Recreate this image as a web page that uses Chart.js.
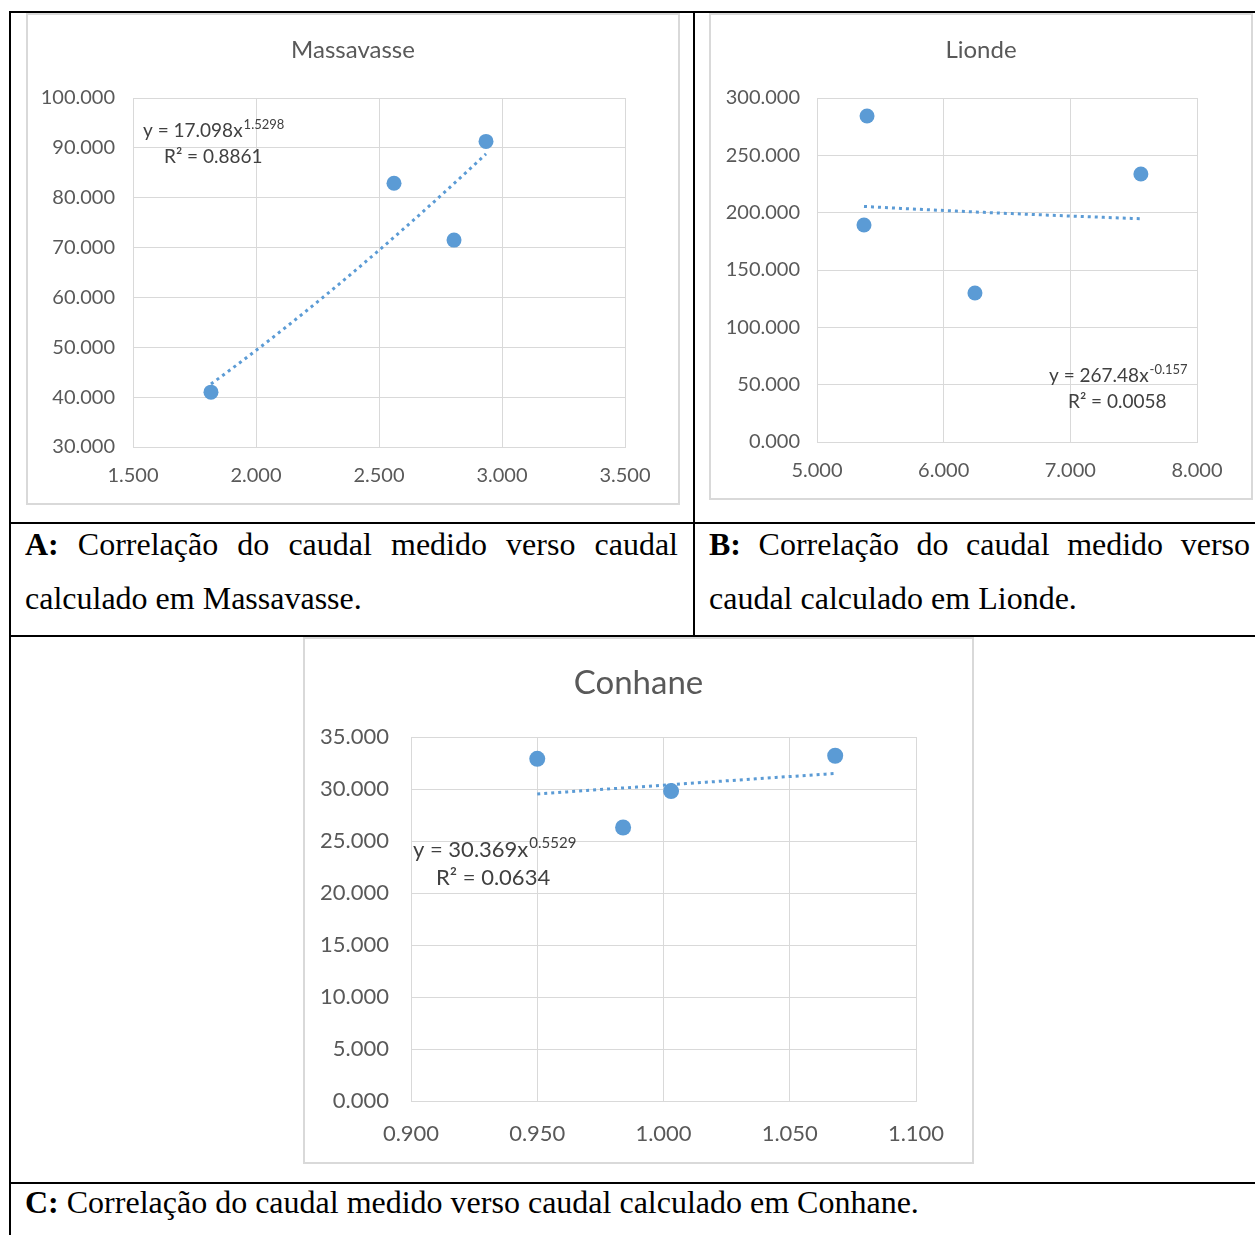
<!DOCTYPE html>
<html>
<head>
<meta charset="utf-8">
<title>Correlação do caudal medido verso caudal calculado</title>
<script src="https://cdn.jsdelivr.net/npm/chart.js@4.4.1/dist/chart.umd.min.js"></script>
<style>
  html, body { margin: 0; padding: 0; background: #fff; }
  body { position: relative; width: 1255px; height: 1235px; overflow: hidden; }
  .rule { position: absolute; background: #000; }
  .frame { position: absolute; border: 2px solid #d9d9d9; background: #fff; }
  .frame canvas { display: block; }
  .cap {
    position: absolute;
    font-family: "Liberation Serif", "Times New Roman", serif;
    font-size: 32px;
    line-height: 54px;
    height: 54px;
    color: #000;
    white-space: nowrap;
  }
  .cap.just { text-align: justify; text-align-last: justify; white-space: normal; }
  .cap b { font-weight: bold; }
</style>
</head>
<body>

<!-- table rules -->
<div class="rule" style="left:9px; top:11px; width:1246px; height:2px;"></div>
<div class="rule" style="left:9px; top:11px; width:2px; height:1224px;"></div>
<div class="rule" style="left:693px; top:11px; width:2px; height:625px;"></div>
<div class="rule" style="left:9px; top:522px; width:1246px; height:2px;"></div>
<div class="rule" style="left:9px; top:635px; width:1246px; height:2px;"></div>
<div class="rule" style="left:9px; top:1182px; width:1246px; height:2px;"></div>

<div class="frame" style="left:26px; top:13px; width:650px; height:488px;"><canvas id="chartA" width="650" height="488"></canvas></div>
<div class="frame" style="left:709px; top:13px; width:540px; height:483px;"><canvas id="chartB" width="540" height="483"></canvas></div>
<div class="frame" style="left:303px; top:637px; width:667px; height:523px;"><canvas id="chartC" width="667" height="523"></canvas></div>

<div class="cap just" style="left:25px; top:517px; width:653px;"><b>A:</b> Correlação do caudal medido verso caudal</div>
<div class="cap" style="left:25px; top:571px;">calculado em Massavasse.</div>
<div class="cap just" style="left:709px; top:517px; width:541px;"><b>B:</b> Correlação do caudal medido verso</div>
<div class="cap" style="left:709px; top:571px;">caudal calculado em Lionde.</div>
<div class="cap" style="left:25px; top:1175px;"><b>C:</b> Correlação do caudal medido verso caudal calculado em Conhane.</div>

<script>
// Massavasse: caudal calculado (x) vs caudal medido (y)
const massX = [1.817, 2.561, 2.805, 2.935];
const massY = [41.0, 82.9, 71.5, 91.3];
const massFit = [17.098, 1.5298];   // y = a·x^b
const massR2 = "0.8861";
const massXTicks = [1.5, 2.0, 2.5, 3.0, 3.5];
const massYTicks = [30, 40, 50, 60, 70, 80, 90, 100];

// Lionde
const lioX = [5.395, 5.371, 6.247, 7.557];
const lioY = [284.3, 189.2, 129.9, 233.7];
const lioFit = [267.48, -0.157];
const lioR2 = "0.0058";
const lioXTicks = [5, 6, 7, 8];
const lioYTicks = [0, 50, 100, 150, 200, 250, 300];

// Conhane
const conX = [0.950, 0.984, 1.003, 1.068];
const conY = [32.9, 26.3, 29.8, 33.2];
const conFit = [30.369, 0.5529];
const conR2 = "0.0634";
const conXTicks = [0.90, 0.95, 1.00, 1.05, 1.10];
const conYTicks = [0, 5, 10, 15, 20, 25, 30, 35];

const BLUE = "#5b9bd5";
const GRID = "#d9d9d9";
const TXT = "#595959";
const FONT = "Lato, 'Open Sans', sans-serif";

// power trend line evaluated from the fitted equation over the data range
function powerTrend(xs, fit) {
  const lo = Math.min(...xs), hi = Math.max(...xs);
  const n = 30, pts = [];
  for (let i = 0; i <= n; i++) {
    const x = lo + (hi - lo) * i / n;
    pts.push({ x, y: fit[0] * Math.pow(x, fit[1]) });
  }
  return pts;
}

// title and trend-equation labels
const labelsPlugin = {
  id: "labels",
  afterDraw(chart, args, o) {
    const ctx = chart.ctx;
    ctx.save();
    ctx.fillStyle = TXT;
    ctx.textAlign = "center";
    ctx.textBaseline = "middle";
    ctx.font = o.titleSize + "px " + FONT;
    ctx.fillText(o.title, chart.width / 2, o.titleY);

    ctx.fillStyle = "#404040";
    ctx.textAlign = "left";
    ctx.textBaseline = "alphabetic";
    ctx.font = o.eqSize + "px " + FONT;
    const main = "y = " + o.fit[0] + "x";
    ctx.fillText(main, o.eq1[0], o.eq1[1]);
    const w = ctx.measureText(main).width;
    ctx.font = o.supSize + "px " + FONT;
    ctx.fillText(String(o.fit[1]), o.eq1[0] + w + 1, o.eq1[1] - o.supRise);
    ctx.font = o.eqSize + "px " + FONT;
    ctx.fillText("R² = " + o.r2, o.eq2[0], o.eq2[1]);
    ctx.restore();
  }
};

function makeChart(id, d) {
  const tickFont = { family: FONT, size: d.tickSize };
  return new Chart(document.getElementById(id), {
    type: "scatter",
    data: {
      datasets: [
        {
          data: d.xs.map((x, i) => ({ x, y: d.ys[i] })),
          backgroundColor: BLUE,
          borderWidth: 0,
          pointRadius: d.radius,
          order: 1
        },
        {
          type: "line",
          data: powerTrend(d.xs, d.fit),
          borderColor: BLUE,
          borderWidth: 3,
          borderDash: [3, 4],
          pointRadius: 0,
          fill: false,
          tension: 0,
          order: 2
        }
      ]
    },
    options: {
      responsive: false,
      animation: false,
      devicePixelRatio: 1,
      layout: { padding: { top: d.padTop, right: d.padRight, left: 0, bottom: 0 } },
      plugins: {
        legend: { display: false },
        tooltip: { enabled: false },
        labels: {
          title: d.title, titleSize: d.titleSize, titleY: d.titleY,
          fit: d.fit, r2: d.r2, eq1: d.eq1, eq2: d.eq2,
          eqSize: d.eqSize, supSize: d.supSize, supRise: d.supRise
        }
      },
      scales: {
        x: {
          type: "linear",
          min: d.xTicks[0], max: d.xTicks[d.xTicks.length - 1],
          afterBuildTicks: s => { s.ticks = d.xTicks.map(v => ({ value: v })); },
          afterFit: s => { s.height = d.xAxisH; },
          grid: { color: GRID, lineWidth: 1, drawTicks: false },
          border: { color: GRID, width: 1 },
          ticks: {
            color: TXT, font: tickFont, padding: d.xPad,
            maxRotation: 0, autoSkip: false,
            callback: v => Number(v).toFixed(3)
          }
        },
        y: {
          type: "linear",
          min: d.yTicks[0], max: d.yTicks[d.yTicks.length - 1],
          afterBuildTicks: s => { s.ticks = d.yTicks.map(v => ({ value: v })); },
          afterFit: s => { s.width = d.yAxisW; },
          grid: { color: GRID, lineWidth: 1, drawTicks: false },
          border: { color: GRID, width: 1 },
          ticks: {
            color: TXT, font: tickFont, padding: d.yPad,
            autoSkip: false,
            callback: v => Number(v).toFixed(3)
          }
        }
      }
    },
    plugins: [labelsPlugin]
  });
}

makeChart("chartA", {
  xs: massX, ys: massY, fit: massFit, r2: massR2,
  xTicks: massXTicks, yTicks: massYTicks,
  title: "Massavasse", titleSize: 24, titleY: 35,
  padTop: 83, padRight: 53, yAxisW: 105, xAxisH: 56, yPad: 18, xPad: 17,
  tickSize: 20, radius: 7.5,
  eq1: [115, 122], eq2: [136, 148], eqSize: 19, supSize: 13, supRise: 8
});

makeChart("chartB", {
  xs: lioX, ys: lioY, fit: lioFit, r2: lioR2,
  xTicks: lioXTicks, yTicks: lioYTicks,
  title: "Lionde", titleSize: 24, titleY: 35,
  padTop: 83, padRight: 54, yAxisW: 106, xAxisH: 56, yPad: 17, xPad: 17,
  tickSize: 20, radius: 7.5,
  eq1: [338, 367], eq2: [357, 393], eqSize: 19, supSize: 13, supRise: 8
});

makeChart("chartC", {
  xs: conX, ys: conY, fit: conFit, r2: conR2,
  xTicks: conXTicks, yTicks: conYTicks,
  title: "Conhane", titleSize: 33, titleY: 44,
  padTop: 98, padRight: 56, yAxisW: 106, xAxisH: 61, yPad: 22, xPad: 20,
  tickSize: 22, radius: 8,
  eq1: [108, 218], eq2: [131, 246], eqSize: 22, supSize: 15, supRise: 9
});
</script>
</body>
</html>
